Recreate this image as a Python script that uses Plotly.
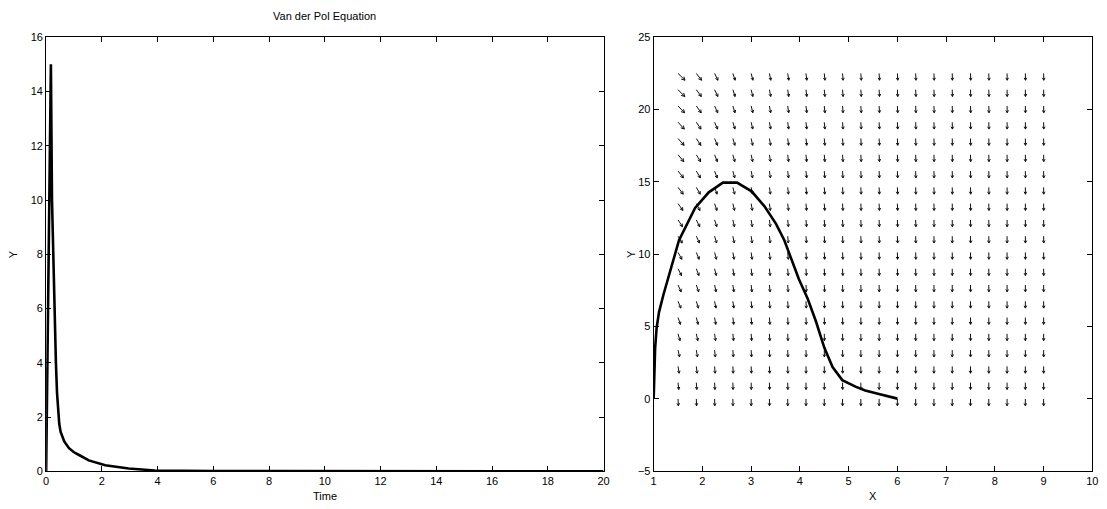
import numpy as np
import plotly.graph_objects as go

# ---- time series: Y(t) ----
time_vals = [0, 0.17, 0.21, 0.26, 0.30, 0.35, 0.39, 0.43, 0.47, 0.52, 0.58, 0.65,
             0.82, 1.0, 1.18, 1.53, 2.12, 2.96, 3.9, 5.0, 6.0, 8.0, 10.0, 14.0, 20.0]
y_time = [0, 15.0, 10.0, 7.4, 6.0, 4.0, 2.9, 2.2, 1.75, 1.45, 1.25, 1.1,
          0.85, 0.7, 0.6, 0.4, 0.22, 0.1, 0.03, 0.015, 0.008, 0.004, 0.002, 0.001, 0.0]

# ---- phase trajectory: Y(X) ----
x_phase = [1.0, 1.01, 1.03, 1.06, 1.11, 1.2, 1.31, 1.41, 1.52, 1.85, 2.13, 2.42, 2.71, 3.01,
           3.27, 3.51, 3.68, 3.98, 4.16, 4.33, 4.5, 4.67, 4.87, 5.14, 5.34, 5.6, 5.8, 6.0]
y_phase = [0.0, 1.8, 3.5, 4.9, 6.0, 7.2, 8.5, 9.8, 10.97, 13.2, 14.28, 14.95, 14.95, 14.35,
           13.33, 12.1, 10.97, 8.27, 6.92, 5.35, 3.55, 2.2, 1.3, 0.85, 0.58, 0.36, 0.18, 0.02]

# ---- direction field grid ----
field_x = [1.5, 1.875, 2.25, 2.625, 3.0, 3.375, 3.75, 4.125, 4.5, 4.875, 5.25,
           5.625, 6.0, 6.375, 6.75, 7.125, 7.5, 7.875, 8.25, 8.625, 9.0]
field_y = [0.0, 1.125, 2.25, 3.375, 4.5, 5.625, 6.75, 7.875, 9.0, 10.125, 11.25,
           12.375, 13.5, 14.625, 15.75, 16.875, 18.0, 19.125, 20.25, 21.375, 22.5]
# sideways lean of the arrows per column (at the top row) and per row
col_lean = [1.0, 0.75, 0.48, 0.33, 0.25, 0.19, 0.15, 0.12, 0.10, 0.08, 0.07,
            0.06, 0.05, 0.04, 0.04, 0.03, 0.03, 0.03, 0.02, 0.02, 0.02]
row_lean = [0.05, 0.10, 0.16, 0.22, 0.28, 0.34, 0.40, 0.45, 0.50, 0.55, 0.60,
            0.65, 0.70, 0.75, 0.79, 0.83, 0.87, 0.90, 0.94, 0.97, 1.0]

W, H = 1107, 509
left_dom = [43.5 / W, 605.5 / W]
right_dom = [656 / W, 1098.3 / W]
y_dom = [(H - 476.5) / H, (H - 32) / H]

xr2, yr2 = [1, 10], [-5, 25]
px_x = (right_dom[1] - right_dom[0]) * W / (xr2[1] - xr2[0])
px_y = (y_dom[1] - y_dom[0]) * H / (yr2[1] - yr2[0])

# arrows laid out in pixel space: constant downward drop, variable sideways lean
drop_px = 7.0
head_angle = np.radians(28)
ax_, ay_ = [], []
for j, yy in enumerate(field_y):
    for i, xx in enumerate(field_x):
        u = drop_px * col_lean[i] * row_lean[j]
        v = -drop_px
        L = np.hypot(u, v)
        bx, by = -u / L, -v / L          # unit vector pointing back along the shaft
        hl = 0.4 * L
        tx, ty = xx + u / px_x, yy + v / px_y
        ax_ += [xx, tx, None]
        ay_ += [yy, ty, None]
        for s in (head_angle, -head_angle):
            rx = bx * np.cos(s) - by * np.sin(s)
            ry = bx * np.sin(s) + by * np.cos(s)
            ax_ += [tx, tx + hl * rx / px_x, None]
            ay_ += [ty, ty + hl * ry / px_y, None]

fig = go.Figure()
fig.add_trace(go.Scatter(x=time_vals, y=y_time, mode="lines",
                         line=dict(color="black", width=2.6),
                         xaxis="x", yaxis="y", showlegend=False))
fig.add_trace(go.Scatter(x=ax_, y=ay_, mode="lines",
                         line=dict(color="#111111", width=1.0),
                         xaxis="x2", yaxis="y2", showlegend=False, hoverinfo="skip"))
fig.add_trace(go.Scatter(x=x_phase, y=y_phase, mode="lines",
                         line=dict(color="black", width=2.6),
                         xaxis="x2", yaxis="y2", showlegend=False))

font = dict(family="Liberation Sans, Arial, sans-serif", size=11, color="black")
axis_common = dict(showline=True, linecolor="black", linewidth=1, mirror="ticks",
                   ticks="inside", ticklen=5, tickcolor="black", tickwidth=1,
                   showgrid=False, zeroline=False, tickfont=font)

fig.update_layout(
    width=W, height=H, margin=dict(l=0, r=0, t=0, b=0),
    paper_bgcolor="white", plot_bgcolor="white", font=font,
    xaxis=dict(domain=left_dom, range=[0, 20], tickvals=list(range(0, 21, 2)),
               anchor="y", **axis_common),
    yaxis=dict(domain=y_dom, range=[0, 16], tickvals=list(range(0, 17, 2)),
               anchor="x", **axis_common),
    xaxis2=dict(domain=right_dom, range=xr2, tickvals=list(range(1, 11)),
                anchor="y2", **axis_common),
    yaxis2=dict(domain=y_dom, range=yr2, tickvals=list(range(-5, 26, 5)),
                anchor="x2", **axis_common),
    annotations=[
        dict(text="Van der Pol Equation", x=(left_dom[0] + left_dom[1]) / 2, y=(H - 10) / H,
             xref="paper", yref="paper", showarrow=False, font=font,
             xanchor="center", yanchor="middle"),
        dict(text="Time", x=(left_dom[0] + left_dom[1]) / 2, y=(H - 502) / H,
             xref="paper", yref="paper", showarrow=False, font=font,
             xanchor="center", yanchor="middle"),
        dict(text="Y", x=10 / W, y=(y_dom[0] + y_dom[1]) / 2, textangle=-90,
             xref="paper", yref="paper", showarrow=False, font=font,
             xanchor="center", yanchor="middle"),
        dict(text="X", x=(right_dom[0] + right_dom[1]) / 2, y=(H - 502) / H,
             xref="paper", yref="paper", showarrow=False, font=font,
             xanchor="center", yanchor="middle"),
        dict(text="Y", x=633 / W, y=(y_dom[0] + y_dom[1]) / 2, textangle=-90,
             xref="paper", yref="paper", showarrow=False, font=font,
             xanchor="center", yanchor="middle"),
    ],
)

fig.write_html("out.html")
